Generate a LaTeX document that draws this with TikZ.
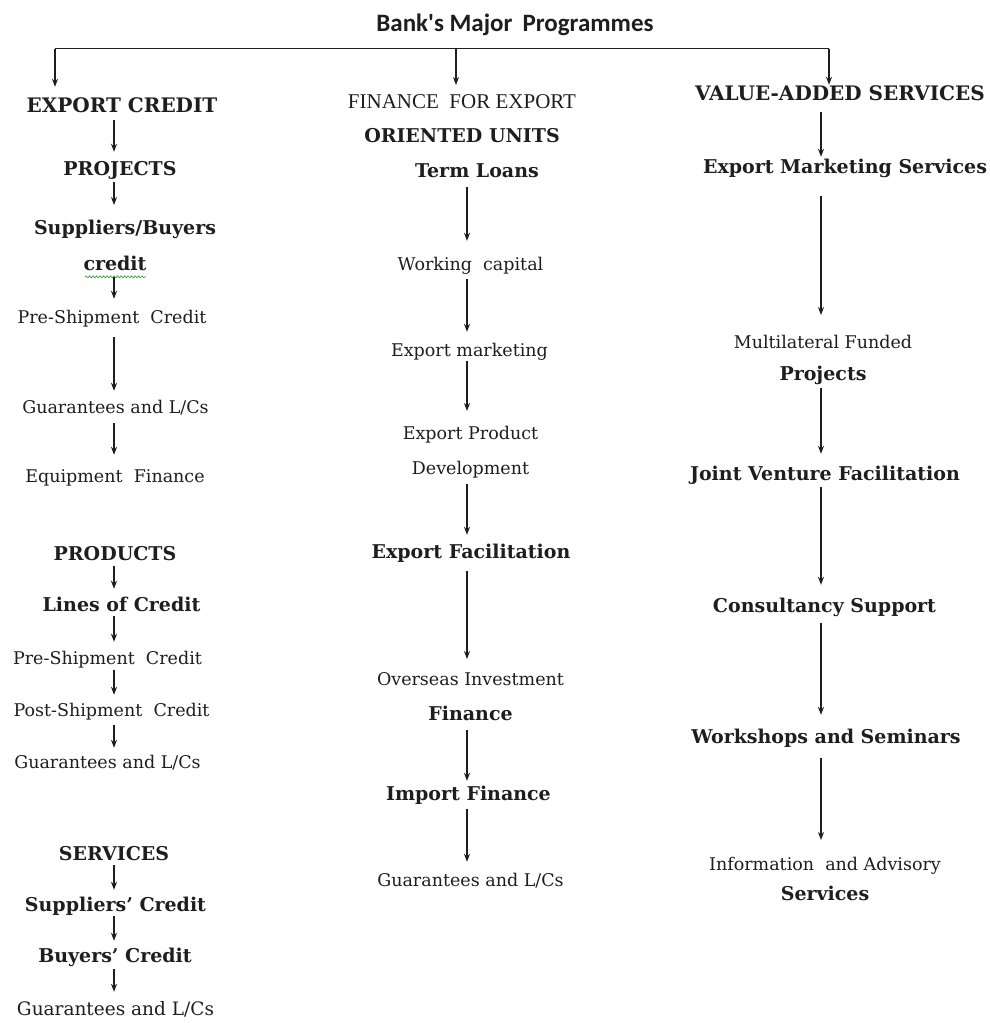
\documentclass[tikz,border=0pt]{standalone}
\usepackage{fontspec}
\setmainfont{DejaVu Serif}
\newfontfamily\titlefont{Carlito}
\newfontfamily\condfont{Liberation Serif}
\usetikzlibrary{arrows.meta,decorations.pathmorphing}
\definecolor{ink}{RGB}{30,30,30}
\definecolor{spellgreen}{RGB}{70,160,70}
\newcommand\topst{\rule{0pt}{14pt}}
\newcommand\botst{\rule[-5pt]{0pt}{5pt}}
\begin{document}
\begin{tikzpicture}[x=1pt,y=-1pt,
  every node/.style={inner sep=0pt,text=ink},
  bb/.style={anchor=base,text height=14pt,text depth=5pt,font=\bfseries\fontsize{19}{35}\selectfont},
  rr/.style={anchor=base,text height=14pt,text depth=5pt,font=\fontsize{17.5}{35}\selectfont},
  tw/.style={anchor=north,align=center,font=\fontsize{19}{35}\selectfont},
  arr/.style={draw=ink,line width=1.3pt,-{Stealth[length=8pt,width=6pt]}},
  bar/.style={draw=ink,line width=1.3pt},
  spell/.style={draw=spellgreen,line width=0.7pt,decorate,decoration={snake,amplitude=1pt,segment length=3.5pt}}
]
\useasboundingbox[fill=white] (0,0) rectangle (990,1023);

% title
\node[anchor=base,font=\titlefont\bfseries\fontsize{25}{30}\selectfont] (title) at (515,31) {Bank's Major\hspace{0.4em}Programmes};

% column axes
\coordinate (cL) at (114,0);
\coordinate (cM) at (467,0);
\coordinate (cR) at (821,0);
\coordinate (hl) at (55,48.5);
\coordinate (hm) at (456,48.5);
\coordinate (hr) at (829,48.5);

% left column
\node[bb,font=\bfseries\fontsize{20}{35}\selectfont] (ec) at (122,112) {EXPORT CREDIT};
\node[bb] (proj) at (120,175) {PROJECTS};
\node[tw,font=\bfseries\fontsize{19}{36}\selectfont] (sb) at (125,220) {\topst Suppliers/Buyers\\credit\hspace*{20pt}\botst};
\node[rr] (ps1) at (112,323) {Pre-Shipment\ \ Credit};
\node[rr] (g1) at (115.5,413) {Guarantees and L/Cs};
\node[rr] (ef) at (115,482) {Equipment\ \ Finance};
\node[bb] (prod) at (115,560) {PRODUCTS};
\node[bb] (loc) at (121.5,611) {Lines of Credit};
\node[rr] (ps2) at (107.5,664) {Pre-Shipment\ \ Credit};
\node[rr] (post) at (111.5,716) {Post-Shipment\ \ Credit};
\node[rr] (g2) at (107.5,768) {Guarantees and L/Cs};
\node[bb] (serv) at (114,860) {SERVICES};
\node[bb] (sc) at (115.5,911) {Suppliers' Credit};
\node[bb] (bc) at (115,962) {Buyers' Credit};
\node[rr,font=\fontsize{18.5}{35}\selectfont] (g3) at (115.5,1015) {Guarantees and L/Cs};

% middle column
\node[tw,font=\fontsize{19}{34}\selectfont] (fin) at (462,94) {\topst{\condfont\fontsize{21}{34}\selectfont FINANCE\ \ FOR EXPORT}\\\bfseries ORIENTED UNITS\botst};
\node[bb] (tl) at (477,177) {Term Loans};
\node[rr] (wc) at (470.5,270) {Working\ \ capital};
\node[rr] (em) at (469.5,356) {Export marketing};
\node[tw,font=\fontsize{17.5}{35}\selectfont] (epd) at (470.5,425) {\topst Export Product\\Development\botst};
\node[bb] (ef2) at (471,558) {Export Facilitation};
\node[tw,font=\fontsize{17.5}{35}\selectfont] (oif) at (470.5,671) {\topst Overseas Investment\\{\bfseries\fontsize{19}{35}\selectfont Finance}\botst};
\node[bb] (imp) at (468.5,800) {Import Finance};
\node[rr] (g4) at (470.5,886) {Guarantees and L/Cs};

% right column
\node[bb,font=\bfseries\fontsize{20}{35}\selectfont] (vas) at (840,100) {VALUE-ADDED SERVICES};
\node[bb] (ems) at (845,173) {Export Marketing Services};
\node[tw,font=\fontsize{17.5}{32}\selectfont] (mfp) at (823,334) {\topst Multilateral Funded\\{\bfseries\fontsize{19}{32}\selectfont Projects}\botst};
\node[bb] (jvf) at (825,480) {Joint Venture Facilitation};
\node[bb] (cs) at (824.5,612) {Consultancy Support};
\node[bb] (ws) at (826,743) {Workshops and Seminars};
\node[tw,font=\fontsize{17.5}{30}\selectfont] (ias) at (825,856) {\topst Information\ \ and Advisory\\{\bfseries\fontsize{19}{30}\selectfont Services}\botst};

% spell-check underline
\draw[spell] ([xshift=-40pt,yshift=-1pt]sb.south) -- ([xshift=21pt,yshift=-1pt]sb.south);

% top bracket
\draw[bar] (hl) -- (hr);
\draw[arr,shorten >=11pt] (hl) -- (hl |- ec.north);
\draw[arr,shorten >=9pt] (hm) -- (hm |- fin.north);
\draw[arr,shorten >=1pt] (hr) -- (hr |- vas.north);

% left arrows
\draw[arr,shorten <=3pt,shorten >=9pt] (ec.south -| cL) -- (proj.north -| cL);
\draw[arr,shorten <=2pt,shorten >=15pt] (proj.south -| cL) -- (sb.north -| cL);
\draw[arr,shorten <=1pt,shorten >=10pt] (sb.south -| cL) -- (ps1.north -| cL);
\draw[arr,shorten <=9pt,shorten >=8pt] (ps1.south -| cL) -- (g1.north -| cL);
\draw[arr,shorten <=5pt,shorten >=13pt] (g1.south -| cL) -- (ef.north -| cL);
\draw[arr,shorten <=1pt,shorten >=8pt] (prod.south -| cL) -- (loc.north -| cL);
\draw[arr,shorten <=0pt,shorten >=8pt] (loc.south -| cL) -- (ps2.north -| cL);
\draw[arr,shorten <=1pt,shorten >=7pt] (ps2.south -| cL) -- (post.north -| cL);
\draw[arr,shorten <=4pt,shorten >=6pt] (post.south -| cL) -- (g2.north -| cL);
\draw[arr,shorten <=0pt,shorten >=7pt] (serv.south -| cL) -- (sc.north -| cL);
\draw[arr,shorten <=0pt,shorten >=7pt] (sc.south -| cL) -- (bc.north -| cL);
\draw[arr,shorten <=2pt,shorten >=9pt] (bc.south -| cL) -- (g3.north -| cL);

% middle arrows
\draw[arr,shorten <=5pt,shorten >=15pt] (tl.south -| cM) -- (wc.north -| cM);
\draw[arr,shorten <=4pt,shorten >=10pt] (wc.south -| cM) -- (em.north -| cM);
\draw[arr,shorten <=0pt,shorten >=14pt] (em.south -| cM) -- (epd.north -| cM);
\draw[arr,shorten <=5pt,shorten >=9pt] (epd.south -| cM) -- (ef2.north -| cM);
\draw[arr,shorten <=8pt,shorten >=12pt] (ef2.south -| cM) -- (oif.north -| cM);
\draw[arr,shorten <=5pt,shorten >=5pt] (oif.south -| cM) -- (imp.north -| cM);
\draw[arr,shorten <=4pt,shorten >=10pt] (imp.south -| cM) -- (g4.north -| cM);

% right arrows
\draw[arr,shorten <=7pt,shorten >=2pt] (vas.south -| cR) -- (ems.north -| cR);
\draw[arr,shorten <=18pt,shorten >=19pt] (ems.south -| cR) -- (mfp.north -| cR);
\draw[arr,shorten <=3pt,shorten >=12pt] (mfp.south -| cR) -- (jvf.north -| cR);
\draw[arr,shorten <=2pt,shorten >=13pt] (jvf.south -| cR) -- (cs.north -| cR);
\draw[arr,shorten <=6pt,shorten >=14pt] (cs.south -| cR) -- (ws.north -| cR);
\draw[arr,shorten <=10pt,shorten >=16pt] (ws.south -| cR) -- (ias.north -| cR);
\end{tikzpicture}
\end{document}
